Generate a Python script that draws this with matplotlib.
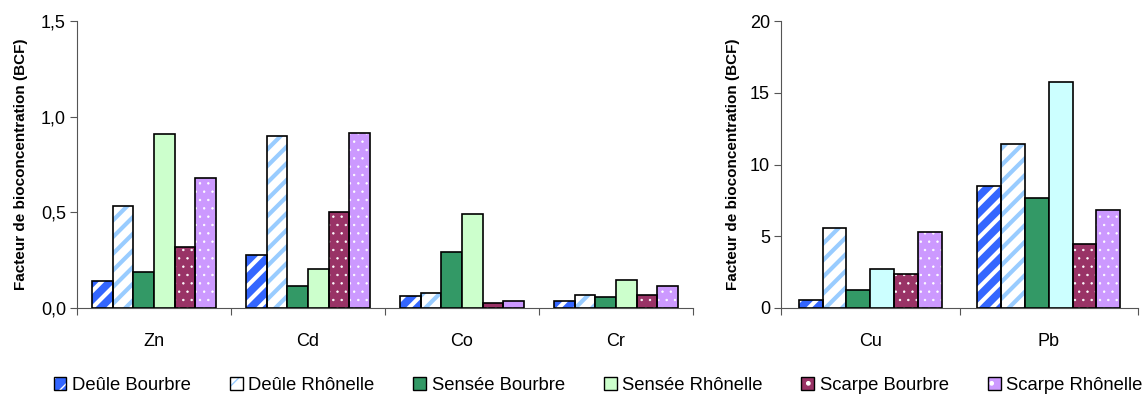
import numpy as np
import matplotlib
matplotlib.use('Agg')
import matplotlib.pyplot as plt
from matplotlib.patches import Patch
from matplotlib.legend_handler import HandlerTuple
from matplotlib.ticker import FuncFormatter

plt.rcParams['font.family'] = ['Liberation Sans', 'DejaVu Sans']

# Data
series_names = ['Deûle Bourbre', 'Deûle Rhônelle', 'Sensée Bourbre',
                'Sensée Rhônelle', 'Scarpe Bourbre', 'Scarpe Rhônelle']

left_cats = ['Zn', 'Cd', 'Co', 'Cr']
left_values = [
    [0.14, 0.275, 0.061, 0.038],   # Deûle Bourbre
    [0.535, 0.90, 0.077, 0.066],   # Deûle Rhônelle
    [0.19, 0.114, 0.294, 0.056],   # Sensée Bourbre
    [0.91, 0.205, 0.49, 0.148],    # Sensée Rhônelle
    [0.32, 0.50, 0.026, 0.066],    # Scarpe Bourbre
    [0.68, 0.914, 0.038, 0.114],   # Scarpe Rhônelle
]

right_cats = ['Cu', 'Pb']
right_values = [
    [0.58, 8.47],
    [5.56, 11.42],
    [1.26, 7.65],
    [2.74, 15.72],
    [2.37, 4.49],
    [5.30, 6.86],
]

# styles: (face, hatch colour, hatch)
styles = [
    ('#3366FF', 'white', '//'),
    ('white', '#99CCFF', '//'),
    ('#339966', None, ''),
    ('#CCFFCC', None, ''),
    ('#993366', 'white', '..'),
    ('#CC99FF', 'white', '..'),
]
right_sensee_rh = '#CCFFFF'


def hatch_lw(hatch):
    return 3.0 if '/' in hatch else 0.5


def draw_bars(ax, cats, values, ymax, ystep, fmt, alt_colors=None):
    x = np.arange(len(cats))
    n = len(values)
    w = 0.8 / n
    for i, vals in enumerate(values):
        face, hcol, hatch = styles[i]
        if alt_colors and i in alt_colors:
            face = alt_colors[i]
        pos = x - 0.4 + w * (i + 0.5)
        if hatch:
            with plt.rc_context({'hatch.linewidth': hatch_lw(hatch)}):
                bars = ax.bar(pos, vals, w, color=face, edgecolor=hcol,
                              hatch=hatch, linewidth=0, zorder=2)
                for b in bars:
                    try:
                        b.set_hatch_linewidth(hatch_lw(hatch))
                    except AttributeError:
                        pass
            ax.bar(pos, vals, w, fill=False, edgecolor='black', linewidth=1.2, zorder=3)
        else:
            ax.bar(pos, vals, w, color=face, edgecolor='black', linewidth=1.2, zorder=3)

    ax.set_xlim(-0.5, len(cats) - 0.5)
    ax.set_ylim(0, ymax)
    ax.set_yticks(np.arange(0, ymax + ystep / 2, ystep))
    ax.yaxis.set_major_formatter(FuncFormatter(fmt))
    ax.set_xticks(np.arange(len(cats) + 1) - 0.5)
    ax.set_xticklabels([])
    ax.set_xticks(x, minor=True)
    ax.set_xticklabels(cats, minor=True)
    ax.tick_params(axis='x', which='minor', length=0, pad=18, labelsize=13)
    ax.tick_params(axis='x', which='major', length=5, color='#555555')
    ax.tick_params(axis='y', length=5, labelsize=13, color='#555555', pad=3)
    for s in ['top', 'right']:
        ax.spines[s].set_visible(False)
    for s in ['left', 'bottom']:
        ax.spines[s].set_color('#555555')
    ax.set_ylabel('Facteur de bioconcentration (BCF)', fontsize=11, fontweight='bold')


fig = plt.figure(figsize=(11.46, 4.01), dpi=100)
ax1 = fig.add_axes([77 / 1146, 1 - 308 / 401, (693 - 77) / 1146, (308 - 21) / 401])
ax2 = fig.add_axes([781 / 1146, 1 - 308 / 401, (1138 - 781) / 1146, (308 - 21) / 401])

draw_bars(ax1, left_cats, left_values, 1.5, 0.5,
          lambda v, p: f'{v:.1f}'.replace('.', ','))
draw_bars(ax2, right_cats, right_values, 20, 5,
          lambda v, p: f'{v:.0f}', alt_colors={3: right_sensee_rh})
ax1.yaxis.set_label_coords(-0.08, 0.5)
ax2.yaxis.set_label_coords(-0.115, 0.5)

handles = []
for i, name in enumerate(series_names):
    face, hcol, hatch = styles[i]
    if hatch:
        with plt.rc_context({'hatch.linewidth': 1.5 if '/' in hatch else 0.5}):
            inner = Patch(facecolor=face, edgecolor=hcol, hatch=hatch.replace('..', '.'), linewidth=0)
        outer = Patch(fill=False, edgecolor='black', linewidth=1)
        handles.append((inner, outer))
    else:
        handles.append(Patch(facecolor=face, edgecolor='black', linewidth=1))
fig.legend(handles=handles, labels=series_names, loc='center',
           bbox_to_anchor=(598 / 1146, 1 - 385 / 401),
           handler_map={tuple: HandlerTuple(ndivide=1)},
           ncol=6, frameon=False, fontsize=13.3, handlelength=0.7, handleheight=0.7,
           handletextpad=0.3, columnspacing=2.1, borderpad=0)

fig.savefig('out.png', dpi=100)
